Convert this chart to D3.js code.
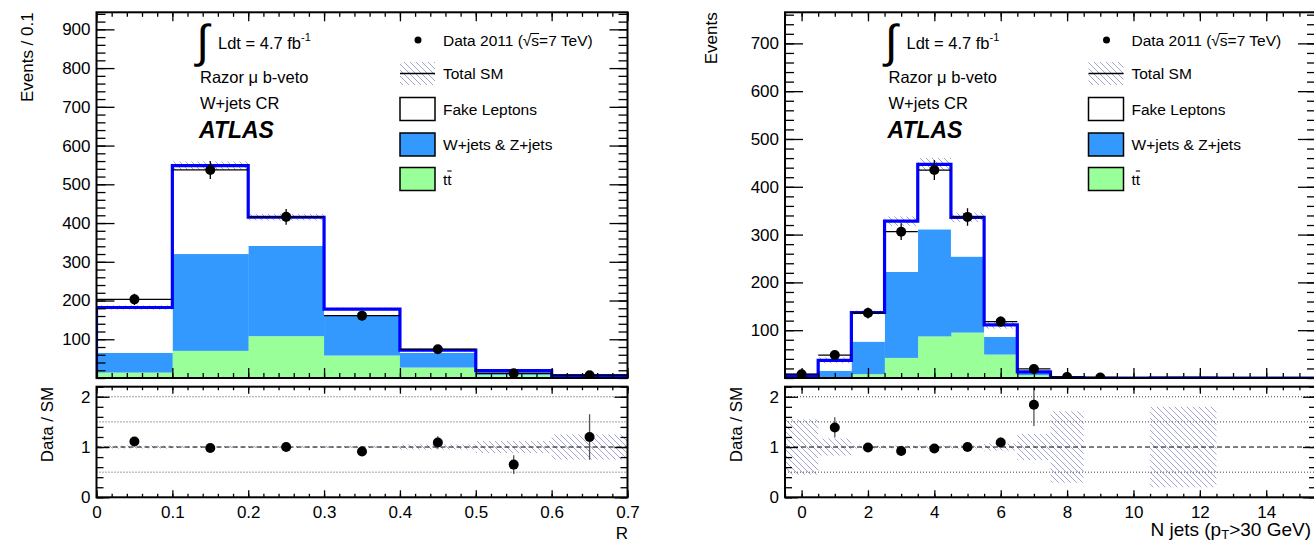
<!DOCTYPE html>
<html>
<head>
<meta charset="utf-8">
<script src="https://cdn.jsdelivr.net/npm/d3@7"></script>
<style>
body { margin: 0; background: #fff; }
text { font-family: "Liberation Sans", Arial, Helvetica, sans-serif; fill: #000; }
</style>
</head>
<body>
<script>
// ---- left plot: razor R ----
const rEdges = [0, 0.1, 0.2, 0.3, 0.4, 0.5, 0.6, 0.7];
const rTtbar = [14, 70, 108, 58, 27, 8, 2];
const rWZ    = [51, 250, 233, 105, 38, 7, 2];
const rFake  = [117, 228, 74, 15, 7, 4, 2];
const rData  = [203, 537, 416, 161, 74, 12, 7];
const rRatio = [1.11, 0.98, 1.0, 0.91, 1.09, 0.65, 1.2];
const rBand  = [0.03, 0.02, 0.02, 0.02, 0.05, 0.12, 0.25];   // relative SM uncertainty
const rXTicks = [0, 0.1, 0.2, 0.3, 0.4, 0.5, 0.6, 0.7];
const rXLabels = ["0", "0.1", "0.2", "0.3", "0.4", "0.5", "0.6", "0.7"];
const rYTicks = [100, 200, 300, 400, 500, 600, 700, 800, 900];

// ---- right plot: jet multiplicity ----
const nEdges = [-0.5, 0.5, 1.5, 2.5, 3.5, 4.5, 5.5, 6.5, 7.5, 8.5, 9.5, 10.5, 11.5, 12.5, 13.5, 14.5, 15.5];
const nTtbar = [0.5, 2, 8, 42, 87, 95, 49, 6, 0.3, 0, 0, 0.1, 0.1, 0, 0, 0];
const nWZ    = [3, 13, 68, 180, 224, 159, 37, 5, 0.5, 0, 0, 0.1, 0.1, 0, 0, 0];
const nFake  = [2, 22, 61, 106, 136, 82, 25, 2, 0.2, 0, 0, 0, 0, 0, 0, 0];
const nData  = [8, 48, 136, 306, 435, 337, 118, 19, 2, 1, null, null, null, null, null, null];
const nRatio = [null, 1.39, 0.99, 0.92, 0.97, 1.0, 1.09, 1.84, null, null, null, null, null, null, null, null];
const nBand  = [0.55, 0.17, 0.03, 0.03, 0.03, 0.03, 0.07, 0.26, 0.71, null, null, 0.8, 0.8, null, null, null];
const nXTicks = [0, 2, 4, 6, 8, 10, 12, 14];
const nXLabels = ["0", "2", "4", "6", "8", "10", "12", "14"];
const nYTicks = [100, 200, 300, 400, 500, 600, 700];

const legendNames = ["Total SM", "Fake Leptons", "W+jets & Z+jets", "tt"];

const W = 1314, H = 542;
const topY = [12.3, 378], ratY = [386.7, 497.3];

const svg = d3.select("body").append("svg")
  .attr("width", W).attr("height", H)
  .attr("xmlns", d3.namespaces.svg);

const defs = svg.append("defs");
defs.append("pattern").attr("id", "hatch")
  .attr("patternUnits", "userSpaceOnUse").attr("width", 6).attr("height", 6)
  .append("path").attr("d", "M0,0L6,6M-3,3L3,9M3,-3L9,3")
  .attr("stroke", "#8686c0").attr("stroke-width", 0.75);

function ticks(g, scale, orient, values, size, labels, pad) {
  const ax = d3[orient](scale).tickValues(values).tickSize(size).tickPadding(pad || 3)
    .tickFormat(labels ? (d, i) => labels[i] : "");
  g.call(ax);
  g.select(".domain").remove();
  g.selectAll("line").attr("stroke", "#000").attr("stroke-width", 1.3);
  g.attr("font-size", 17).attr("font-family", null);
}

function drawPanel(p) {
  const x = d3.scaleLinear().domain([p.edges[0], p.edges[p.edges.length - 1]]).range([p.left, p.right]);
  const y = d3.scaleLinear().domain([0, p.yMax]).range([topY[1], topY[0]]);
  const yr = d3.scaleLinear().domain([0, 2.2]).range([ratY[1], ratY[0]]);
  const nb = p.data.length;
  const bins = d3.range(nb);
  const total = bins.map(i => p.ttbar[i] + p.wz[i] + p.fake[i]);

  const clipTop = p.id + "top", clipRat = p.id + "rat";
  defs.append("clipPath").attr("id", clipTop).append("rect")
    .attr("x", p.left).attr("y", topY[0]).attr("width", p.right - p.left).attr("height", topY[1] - topY[0]);
  defs.append("clipPath").attr("id", clipRat).append("rect")
    .attr("x", p.left).attr("y", ratY[0]).attr("width", p.right - p.left).attr("height", ratY[1] - ratY[0]);

  const top = svg.append("g").attr("clip-path", `url(#${clipTop})`);

  // stacked histograms: ttbar, W/Z+jets, fakes
  const layers = [
    { vals: p.ttbar, base: bins.map(() => 0), color: "#99ff99" },
    { vals: p.wz, base: p.ttbar, color: "#3399ff" },
    { vals: p.fake, base: bins.map(i => p.ttbar[i] + p.wz[i]), color: "#ffffff" }
  ];
  layers.forEach(l => {
    top.selectAll(null).data(bins).enter().append("rect")
      .attr("x", i => x(p.edges[i]))
      .attr("width", i => x(p.edges[i + 1]) - x(p.edges[i]) + 0.3)
      .attr("y", i => y(l.base[i] + l.vals[i]))
      .attr("height", i => y(l.base[i]) - y(l.base[i] + l.vals[i]))
      .attr("fill", l.color);
  });

  // SM uncertainty band
  top.selectAll(null).data(bins.filter(i => p.band[i] != null && total[i] > 0)).enter().append("rect")
    .attr("x", i => x(p.edges[i]))
    .attr("width", i => x(p.edges[i + 1]) - x(p.edges[i]))
    .attr("y", i => y(total[i] * (1 + p.band[i])))
    .attr("height", i => y(total[i] * (1 - p.band[i])) - y(total[i] * (1 + p.band[i])))
    .attr("fill", "url(#hatch)");

  // total SM outline
  const pts = [[p.edges[0], 0]];
  bins.forEach(i => pts.push([p.edges[i], total[i]]));
  pts.push([p.edges[nb], total[nb - 1]], [p.edges[nb], 0]);
  top.append("path")
    .attr("d", d3.line().x(d => x(d[0])).y(d => y(d[1])).curve(d3.curveStepAfter)(pts))
    .attr("fill", "none").attr("stroke", "#0000ff").attr("stroke-width", 3.2);

  // data
  const dBins = bins.filter(i => p.data[i] != null);
  const dg = top.selectAll(null).data(dBins).enter().append("g");
  dg.append("line")
    .attr("x1", i => x(p.edges[i])).attr("x2", i => x(p.edges[i + 1]))
    .attr("y1", i => y(p.data[i])).attr("y2", i => y(p.data[i]))
    .attr("stroke", "#000").attr("stroke-width", 1.3);
  dg.append("line")
    .attr("x1", i => x((p.edges[i] + p.edges[i + 1]) / 2)).attr("x2", i => x((p.edges[i] + p.edges[i + 1]) / 2))
    .attr("y1", i => y(p.data[i] + Math.sqrt(p.data[i]))).attr("y2", i => y(p.data[i] - Math.sqrt(p.data[i])))
    .attr("stroke", "#000").attr("stroke-width", 1.3);
  dg.append("circle")
    .attr("cx", i => x((p.edges[i] + p.edges[i + 1]) / 2)).attr("cy", i => y(p.data[i]))
    .attr("r", 5).attr("fill", "#000");

  // ratio panel
  const rat = svg.append("g").attr("clip-path", `url(#${clipRat})`);
  rat.selectAll(null).data(bins.filter(i => p.band[i] != null)).enter().append("rect")
    .attr("x", i => x(p.edges[i]))
    .attr("width", i => x(p.edges[i + 1]) - x(p.edges[i]))
    .attr("y", i => yr(1 + p.band[i]))
    .attr("height", i => yr(1 - p.band[i]) - yr(1 + p.band[i]))
    .attr("fill", "url(#hatch)");
  [0.5, 1.5, 2].forEach(v => rat.append("line")
    .attr("x1", p.left).attr("x2", p.right).attr("y1", yr(v)).attr("y2", yr(v))
    .attr("stroke", "#444").attr("stroke-width", 1).attr("stroke-dasharray", "1,2"));
  rat.append("line").attr("x1", p.left).attr("x2", p.right).attr("y1", yr(1)).attr("y2", yr(1))
    .attr("stroke", "#000").attr("stroke-width", 1).attr("stroke-dasharray", "5,3");
  const rBinsOk = bins.filter(i => p.ratio[i] != null);
  const rg = rat.selectAll(null).data(rBinsOk).enter().append("g");
  rg.append("line")
    .attr("x1", i => x((p.edges[i] + p.edges[i + 1]) / 2)).attr("x2", i => x((p.edges[i] + p.edges[i + 1]) / 2))
    .attr("y1", i => yr(p.ratio[i] + p.ratio[i] / Math.sqrt(p.data[i])))
    .attr("y2", i => yr(p.ratio[i] - p.ratio[i] / Math.sqrt(p.data[i])))
    .attr("stroke", "#555").attr("stroke-width", 1.3);
  rg.append("circle")
    .attr("cx", i => x((p.edges[i] + p.edges[i + 1]) / 2)).attr("cy", i => yr(p.ratio[i]))
    .attr("r", 5).attr("fill", "#000");

  // frames and ticks
  const yMinor = d3.range(0, p.yMax, 20);
  const xMinor = d3.range(p.edges[0], p.edges[nb] + 1e-9, p.xMinorStep);
  const rMinor = d3.range(0, 2.2001, 0.2);
  const ax = svg.append("g");
  ticks(ax.append("g").attr("transform", `translate(${p.left},0)`), y, "axisLeft", p.yTicks, -18, p.yTicks.map(String), 6);
  ticks(ax.append("g").attr("transform", `translate(${p.left},0)`), y, "axisLeft", yMinor, -9);
  ticks(ax.append("g").attr("transform", `translate(${p.right},0)`), y, "axisRight", p.yTicks, -18);
  ticks(ax.append("g").attr("transform", `translate(${p.right},0)`), y, "axisRight", yMinor, -9);
  ticks(ax.append("g").attr("transform", `translate(0,${topY[0]})`), x, "axisTop", p.xTicks, -9);
  ticks(ax.append("g").attr("transform", `translate(0,${topY[0]})`), x, "axisTop", xMinor, -4.5);
  ticks(ax.append("g").attr("transform", `translate(0,${topY[1]})`), x, "axisBottom", p.xTicks, -10);
  ticks(ax.append("g").attr("transform", `translate(0,${topY[1]})`), x, "axisBottom", xMinor, -5);

  ticks(ax.append("g").attr("transform", `translate(${p.left},0)`), yr, "axisLeft", [0, 1, 2], -13, ["0", "1", "2"], 6);
  ticks(ax.append("g").attr("transform", `translate(${p.left},0)`), yr, "axisLeft", rMinor, -7);
  ticks(ax.append("g").attr("transform", `translate(${p.right},0)`), yr, "axisRight", [0, 1, 2], -13);
  ticks(ax.append("g").attr("transform", `translate(${p.right},0)`), yr, "axisRight", rMinor, -7);
  ticks(ax.append("g").attr("transform", `translate(0,${ratY[0]})`), x, "axisTop", p.xTicks, -7);
  ticks(ax.append("g").attr("transform", `translate(0,${ratY[0]})`), x, "axisTop", xMinor, -3.5);
  ticks(ax.append("g").attr("transform", `translate(0,${ratY[1]})`), x, "axisBottom", p.xTicks, -7, p.xLabels, 9);
  ticks(ax.append("g").attr("transform", `translate(0,${ratY[1]})`), x, "axisBottom", xMinor, -3.5);

  [topY, ratY].forEach(r => ax.append("rect")
    .attr("x", p.left).attr("y", r[0]).attr("width", p.right - p.left).attr("height", r[1] - r[0])
    .attr("fill", "none").attr("stroke", "#000").attr("stroke-width", 2));

  // axis titles
  svg.append("text").attr("transform", `translate(${p.left + p.yTitleDx},${topY[0]}) rotate(-90)`)
    .attr("text-anchor", "end").attr("font-size", 17).text(p.yTitle);
  svg.append("text").attr("transform", `translate(${p.left - 43.5},${ratY[0]}) rotate(-90)`)
    .attr("text-anchor", "end").attr("font-size", 17).text("Data / SM");
  const xt = svg.append("text").attr("x", p.xTitleX).attr("y", p.xTitleY)
    .attr("text-anchor", "end").attr("font-size", p.xTitleSize);
  if (p.id === "n") {
    xt.append("tspan").text("N jets (p");
    xt.append("tspan").attr("dy", 3.5).attr("font-size", 13).text("T");
    xt.append("tspan").attr("dy", -3.5).text(">30 GeV)");
  } else {
    xt.text(p.xTitle);
  }

  // labels
  const L = p.left;
  svg.append("text").attr("x", L + 100).attr("y", 57).attr("font-size", 46).attr("font-family", "DejaVu Sans").text("\u222B");
  const lum = svg.append("text").attr("x", L + 121.5).attr("y", 49).attr("font-size", 16.5);
  lum.append("tspan").text("Ldt = 4.7 fb");
  lum.append("tspan").attr("dy", -8).attr("font-size", 11).text("-1");
  svg.append("text").attr("x", L + 103.5).attr("y", 83).attr("font-size", 16.5).text("Razor \u03BC b-veto");
  svg.append("text").attr("x", L + 103.5).attr("y", 109).attr("font-size", 16.5).text("W+jets CR");
  svg.append("text").attr("x", L + 102.5).attr("y", 138).attr("font-size", 23)
    .attr("font-weight", "bold").attr("font-style", "italic").text("ATLAS");

  // legend
  const bx = L + 303.5, tx = L + 346.5;
  svg.append("circle").attr("cx", L + 321.5).attr("cy", 40).attr("r", 3.5).attr("fill", "#000");
  const dt = svg.append("text").attr("x", tx).attr("y", 45.5).attr("font-size", 15.5);
  dt.append("tspan").text("Data 2011 (\u221A");
  dt.append("tspan").text("s=7 TeV)");
  const dn = dt.node();
  const sx = dn.getStartPositionOfChar(12).x, sw = dn.getSubStringLength(12, 1);
  svg.append("line").attr("x1", sx - 1).attr("x2", sx + sw).attr("y1", 33.5).attr("y2", 33.5)
    .attr("stroke", "#000").attr("stroke-width", 1);
  const rows = [73.5, 109, 144.5, 179];
  svg.append("rect").attr("x", bx).attr("y", rows[0] - 11.5).attr("width", 35).attr("height", 23).attr("fill", "url(#hatch)");
  svg.append("line").attr("x1", bx).attr("x2", bx + 35).attr("y1", rows[0]).attr("y2", rows[0]).attr("stroke", "#000").attr("stroke-width", 1.5);
  ["#ffffff", "#3399ff", "#99ff99"].forEach((c, i) => svg.append("rect")
    .attr("x", bx).attr("y", rows[i + 1] - 11.5).attr("width", 35).attr("height", 23)
    .attr("fill", c).attr("stroke", "#000").attr("stroke-width", 1.5));
  legendNames.forEach((n, i) => {
    const t = svg.append("text").attr("x", tx).attr("y", rows[i] + 5.5).attr("font-size", 15.5).text(n);
    if (i === 3) {
      const tn = t.node();
      const px = tn.getStartPositionOfChar(1).x, pw = tn.getSubStringLength(1, 1);
      svg.append("line").attr("x1", px).attr("x2", px + pw).attr("y1", rows[i] - 8).attr("y2", rows[i] - 8)
        .attr("stroke", "#000").attr("stroke-width", 1.1);
    }
  });
}

drawPanel({
  id: "r", edges: rEdges, ttbar: rTtbar, wz: rWZ, fake: rFake, data: rData, ratio: rRatio, band: rBand,
  left: 96.5, right: 627.5, yMax: 944, yTicks: rYTicks, xTicks: rXTicks, xLabels: rXLabels, xMinorStep: 0.02,
  yTitle: "Events / 0.1", yTitleDx: -63.5, xTitle: "R", xTitleX: 628, xTitleY: 539, xTitleSize: 17
});
drawPanel({
  id: "n", edges: nEdges, ttbar: nTtbar, wz: nWZ, fake: nFake, data: nData, ratio: nRatio, band: nBand,
  left: 785, right: 1316, yMax: 765, yTicks: nYTicks, xTicks: nXTicks, xLabels: nXLabels, xMinorStep: 0.5,
  yTitle: "Events", yTitleDx: -68, xTitle: "N jets", xTitleX: 1311, xTitleY: 535.5, xTitleSize: 19
});
</script>
</body>
</html>
